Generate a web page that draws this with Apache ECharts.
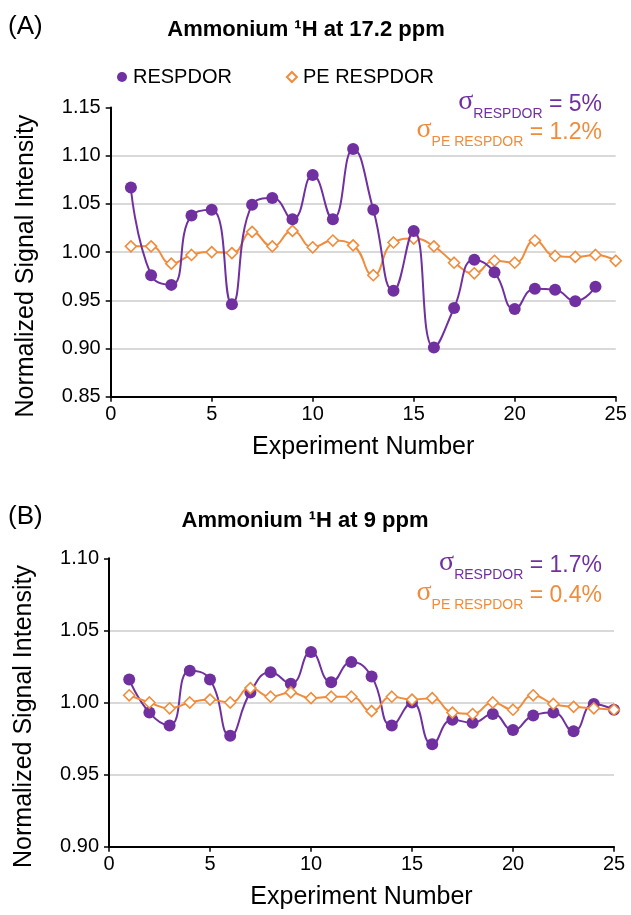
<!DOCTYPE html>
<html>
<head>
<meta charset="utf-8">
<script src="https://cdn.jsdelivr.net/npm/echarts@6/dist/echarts.min.js"></script>
<style>
  html, body { margin: 0; padding: 0; background: #fff; }
  #chart { width: 631px; height: 915px; }
</style>
</head>
<body>
<div id="chart"></div>
<script>
// Experiment numbers (x values)
const experiments = [1, 2, 3, 4, 5, 6, 7, 8, 9, 10, 11, 12, 13, 14, 15, 16, 17, 18, 19, 20, 21, 22, 23, 24, 25];

// Panel A: ammonium 1H at 17.2 ppm
const respdorA = [1.067, 0.976, 0.966, 1.038, 1.044, 0.946, 1.049, 1.056, 1.034, 1.080, 1.034, 1.107,
                  1.044, 0.960, 1.022, 0.901, 0.942, 0.992, 0.979, 0.941, 0.962, 0.961, 0.949, 0.964];
const peRespdorA = [1.006, 1.006, 0.988, 0.997, 1.000, 0.999, 1.021, 1.006, 1.022, 1.005, 1.012, 1.007,
                    0.976, 1.010, 1.014, 1.006, 0.989, 0.978, 0.991, 0.989, 1.012, 0.996, 0.995, 0.997, 0.991];

// Panel B: ammonium 1H at 9 ppm
const respdorB = [1.016, 0.993, 0.984, 1.022, 1.016, 0.977, 1.007, 1.021, 1.013, 1.035, 1.014, 1.028,
                  1.018, 0.984, 1.000, 0.971, 0.988, 0.986, 0.992, 0.981, 0.991, 0.993, 0.980, 0.999, 0.995];
const peRespdorB = [1.005, 1.000, 0.996, 1.000, 1.002, 1.000, 1.010, 1.004, 1.007, 1.003, 1.004, 1.004,
                    0.994, 1.004, 1.002, 1.003, 0.993, 0.992, 1.000, 0.995, 1.005, 0.999, 0.997, 0.996, 0.995];

// Axis ticks and text
const xTicks = { min: 0, max: 25, interval: 5 };
const yTicksA = { min: 0.85, max: 1.15, interval: 0.05 };
const yTicksB = { min: 0.90, max: 1.10, interval: 0.05 };
const titleA = 'Ammonium \u00B9H at 17.2 ppm';
const titleB = 'Ammonium \u00B9H at 9 ppm';
const sigmaA = ['5%', '1.2%'];
const sigmaB = ['1.7%', '0.4%'];

const PURPLE = '#7030a0';
const ORANGE = '#f08c3c';
const FONT = "'Liberation Sans', Arial, sans-serif";
const SMOOTH = 0.5;

const pairs = (vals) => vals.map((v, i) => [experiments[i], v]);

function xAxisFor(gridIndex) {
  return {
    type: 'value', gridIndex,
    min: xTicks.min, max: xTicks.max, interval: xTicks.interval,
    name: 'Experiment Number', nameLocation: 'middle', nameGap: 38,
    nameTextStyle: { fontFamily: FONT, fontSize: 25, color: '#000' },
    axisLine: { show: true, onZero: false, lineStyle: { color: '#000', width: 2 } },
    axisTick: { show: true, length: 5, lineStyle: { color: '#000', width: 1.5 } },
    axisLabel: { fontFamily: FONT, fontSize: 20, color: '#000', margin: 8 },
    splitLine: { show: false }
  };
}

function yAxisFor(gridIndex, ticks) {
  return {
    type: 'value', gridIndex,
    min: ticks.min, max: ticks.max, interval: ticks.interval,
    name: 'Normalized Signal Intensity', nameLocation: 'middle', nameGap: 72,
    nameTextStyle: { fontFamily: FONT, fontSize: 25, color: '#000', padding: [0, 28, 0, 0] },
    axisLine: { show: true, lineStyle: { color: '#000', width: 2 } },
    axisTick: { show: true, length: 5, lineStyle: { color: '#000', width: 1.5 } },
    axisLabel: { fontFamily: FONT, fontSize: 20, color: '#000', margin: 10,
                 formatter: (v) => v.toFixed(2) },
    splitLine: { show: true, showMinLine: false, showMaxLine: false,
                 lineStyle: { color: '#d9d9d9', width: 2 } }
  };
}

function respdorSeries(idx, vals, z) {
  return {
    name: 'RESPDOR', type: 'line', xAxisIndex: idx, yAxisIndex: idx,
    data: pairs(vals), smooth: SMOOTH, z,
    symbol: 'circle', symbolSize: 12,
    lineStyle: { color: PURPLE, width: 2 },
    itemStyle: { color: PURPLE },
    emphasis: { disabled: true }
  };
}

function peSeries(idx, vals, z) {
  return {
    name: 'PE RESPDOR', type: 'line', xAxisIndex: idx, yAxisIndex: idx,
    data: pairs(vals), smooth: SMOOTH, z,
    symbol: 'diamond', symbolSize: 11,
    lineStyle: { color: ORANGE, width: 2 },
    itemStyle: { color: '#fff', borderColor: ORANGE, borderWidth: 1.6 },
    emphasis: { disabled: true }
  };
}

// sigma annotation: "σ_sub = value", right aligned
function sigmaText(x, y, sub, value, color) {
  return {
    type: 'text', x, y, z: 50,
    style: {
      text: '{s|\u03C3}{b|' + sub + '}{m| = ' + value + '}',
      align: 'right', verticalAlign: 'bottom', fill: color,
      rich: {
        s: { fontFamily: "'Liberation Serif', 'Times New Roman', serif", fontSize: 28, lineHeight: 28,
             verticalAlign: 'bottom', padding: [0, 0, 5, 0], fill: color },
        b: { fontFamily: FONT, fontSize: 14, lineHeight: 14, verticalAlign: 'bottom', fill: color },
        m: { fontFamily: FONT, fontSize: 23, lineHeight: 24, verticalAlign: 'bottom',
             padding: [0, 0, 5, 0], fill: color }
      }
    }
  };
}

function panelLetter(text, y) {
  return {
    type: 'text', x: 8, y,
    style: { text, fontFamily: FONT, fontSize: 26, fill: '#000', align: 'left', verticalAlign: 'top' }
  };
}

const chart = echarts.init(document.getElementById('chart'), null, { renderer: 'canvas' });

chart.setOption({
  backgroundColor: '#fff',
  animation: false,
  textStyle: { fontFamily: FONT },
  title: [
    { text: titleA, left: 301, top: 14, textAlign: 'center',
      textStyle: { fontFamily: FONT, fontSize: 22, fontWeight: 'bold', color: '#000' } },
    { text: titleB, left: 300, top: 505, textAlign: 'center',
      textStyle: { fontFamily: FONT, fontSize: 22, fontWeight: 'bold', color: '#000' } }
  ],
  legend: {
    left: 112, top: 62, itemGap: 54, itemWidth: 10, itemHeight: 10,
    textStyle: { fontFamily: FONT, fontSize: 20, color: '#000', padding: [0, 0, 0, 1] },
    data: [
      { name: 'RESPDOR', icon: 'circle', itemStyle: { color: PURPLE } },
      { name: 'PE RESPDOR', icon: 'diamond',
        itemStyle: { color: '#fff', borderColor: ORANGE, borderWidth: 2 } }
    ],
    selectedMode: false
  },
  grid: [
    { left: 110.7, top: 107.5, width: 505, height: 289.2, containLabel: false },
    { left: 109, top: 558.3, width: 505, height: 288.4, containLabel: false }
  ],
  xAxis: [xAxisFor(0), xAxisFor(1)],
  yAxis: [yAxisFor(0, yTicksA), yAxisFor(1, yTicksB)],
  series: [
    peSeries(0, peRespdorA, 2),
    respdorSeries(0, respdorA, 3),
    respdorSeries(1, respdorB, 2),
    peSeries(1, peRespdorB, 3)
  ],
  graphic: [
    panelLetter('(A)', 14),
    panelLetter('(B)', 504),
    sigmaText(602, 121, 'RESPDOR', sigmaA[0], PURPLE),
    sigmaText(602, 149, 'PE RESPDOR', sigmaA[1], ORANGE),
    sigmaText(602, 582, 'RESPDOR', sigmaB[0], PURPLE),
    sigmaText(602, 612, 'PE RESPDOR', sigmaB[1], ORANGE)
  ]
});
</script>
</body>
</html>
